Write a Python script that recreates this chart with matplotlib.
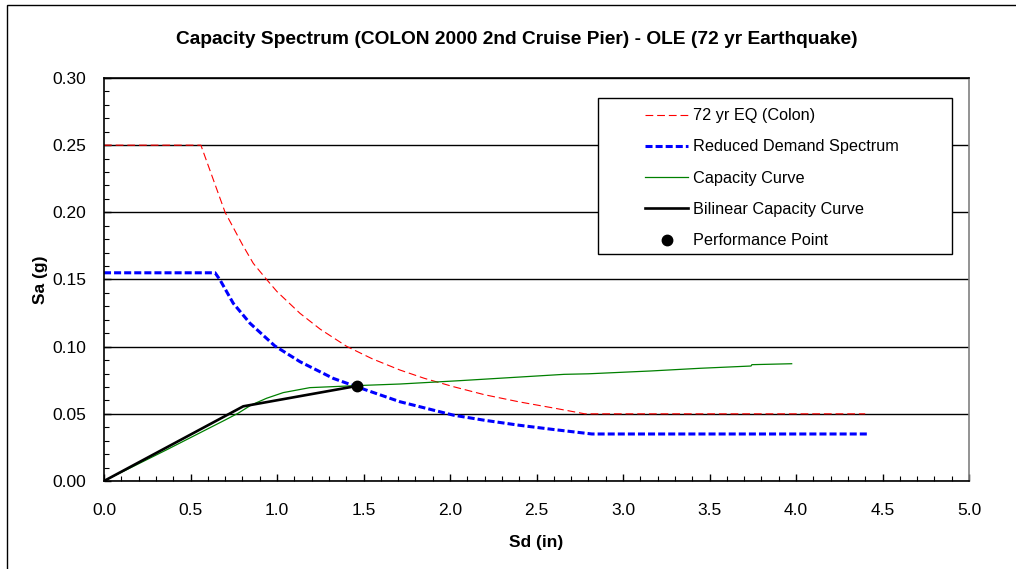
import matplotlib
matplotlib.use("Agg")
import matplotlib.pyplot as plt
from matplotlib.patches import Rectangle
from matplotlib.ticker import MultipleLocator, FormatStrFormatter

plt.rcParams["font.family"] = ["Liberation Sans", "DejaVu Sans"]

# 72 yr EQ (Colon) demand spectrum
sd_eq = [0.0, 0.56, 0.70, 0.80, 0.863, 0.94, 1.00, 1.133, 1.25, 1.403,
         1.55, 1.711, 1.85, 2.02, 2.20, 2.40, 2.60, 2.78, 3.00, 3.50, 4.00, 4.40]
sa_eq = [0.250, 0.250, 0.200, 0.176, 0.162, 0.150, 0.141, 0.1248, 0.113, 0.1002,
         0.091, 0.0826, 0.0765, 0.0702, 0.0642, 0.0589, 0.0543, 0.050, 0.050, 0.050, 0.050, 0.050]

# reduced demand spectrum
sd_rd = [0.0, 0.642, 0.671, 0.747, 0.844, 0.988, 1.133, 1.325, 1.46, 1.711,
         2.02, 2.20, 2.40, 2.60, 2.82, 3.00, 3.50, 4.00, 4.41]
sa_rd = [0.155, 0.155, 0.1496, 0.1323, 0.1174, 0.1005, 0.0888, 0.0764, 0.0702, 0.059,
         0.049, 0.0452, 0.0415, 0.0383, 0.035, 0.035, 0.035, 0.035, 0.035]

# capacity curve
sd_cap = [0.0, 0.36, 0.70, 0.776, 0.85, 0.94, 1.036, 1.19, 1.46, 1.711,
          2.058, 2.66, 2.80, 3.16, 3.445, 3.74, 3.745, 3.975]
sa_cap = [0.0, 0.0231, 0.0454, 0.0505, 0.0565, 0.0616, 0.0658, 0.0695, 0.0710, 0.0722,
          0.0747, 0.0794, 0.0798, 0.0819, 0.0839, 0.0856, 0.0866, 0.0873]

# bilinear capacity curve
sd_bil = [0.0, 0.805, 1.46]
sa_bil = [0.0, 0.0556, 0.0707]

# performance point
sd_pp = [1.46]
sa_pp = [0.0707]

fig = plt.figure(figsize=(10.16, 5.69), dpi=100)
ax = fig.add_axes([104 / 1016, 1 - 481 / 569, 865 / 1016, 403 / 569])

ax.plot(sd_eq, sa_eq, color="#ff0000", lw=0.8, dashes=(7, 3.5), label="72 yr EQ (Colon)")
ax.plot(sd_rd, sa_rd, color="#0000ff", lw=2.2, dashes=(2.3, 1.0), label="Reduced Demand Spectrum")
ax.plot(sd_cap, sa_cap, color="#008000", lw=0.9, label="Capacity Curve")
ax.plot(sd_bil, sa_bil, color="black", lw=1.9, label="Bilinear Capacity Curve")
ax.plot(sd_pp, sa_pp, "o", color="black", ms=7.5, label="Performance Point", zorder=5)

ax.set_xlim(0, 5)
ax.set_ylim(0, 0.30)
ax.xaxis.set_major_locator(MultipleLocator(0.5))
ax.xaxis.set_minor_locator(MultipleLocator(0.1))
ax.yaxis.set_major_locator(MultipleLocator(0.05))
ax.yaxis.set_minor_locator(MultipleLocator(0.01))
ax.xaxis.set_major_formatter(FormatStrFormatter("%.1f"))
ax.yaxis.set_major_formatter(FormatStrFormatter("%.2f"))
ax.tick_params(which="major", direction="in", length=5, width=1, labelsize=12.5)
ax.tick_params(axis="x", which="major", pad=16)
ax.tick_params(axis="y", which="major", pad=13)
ax.tick_params(which="minor", direction="in", length=3.5, width=0.8)
ax.grid(axis="y", which="major", color="black", lw=1.0)
ax.set_axisbelow(True)

for s in ["left", "bottom", "top"]:
    ax.spines[s].set_color("black")
    ax.spines[s].set_linewidth(1.2)
ax.spines["right"].set_color("#808080")
ax.spines["right"].set_linewidth(1.2)

ax.set_xlabel("Sd (in)", fontsize=12.5, fontweight="bold", labelpad=12)
ax.set_ylabel("Sa (g)", fontsize=12.5, fontweight="bold", labelpad=3)
fig.text(517 / 1016, 1 - 40 / 569, "Capacity Spectrum (COLON 2000 2nd Cruise Pier) - OLE (72 yr Earthquake)",
         ha="center", va="center", fontsize=13.8, fontweight="bold")

# legend box drawn separately, entries without frame
ax.add_patch(Rectangle((0.571, 0.5625), 0.409, 0.3875, transform=ax.transAxes,
                       facecolor="white", edgecolor="black", lw=1.0, zorder=6))
leg = ax.legend(loc="upper left", bbox_to_anchor=(0.626, 0.925), frameon=False,
                fontsize=11.7, handlelength=2.6, handletextpad=0.35,
                labelspacing=1.0, borderpad=0, borderaxespad=0)
leg.set_zorder(7)

fig.patches.append(Rectangle((7 / 1016, -0.1), 1.2, 1.1 - 5 / 569, transform=fig.transFigure,
                             fill=False, edgecolor="black", lw=1.0))

fig.savefig("out.png", dpi=100)
